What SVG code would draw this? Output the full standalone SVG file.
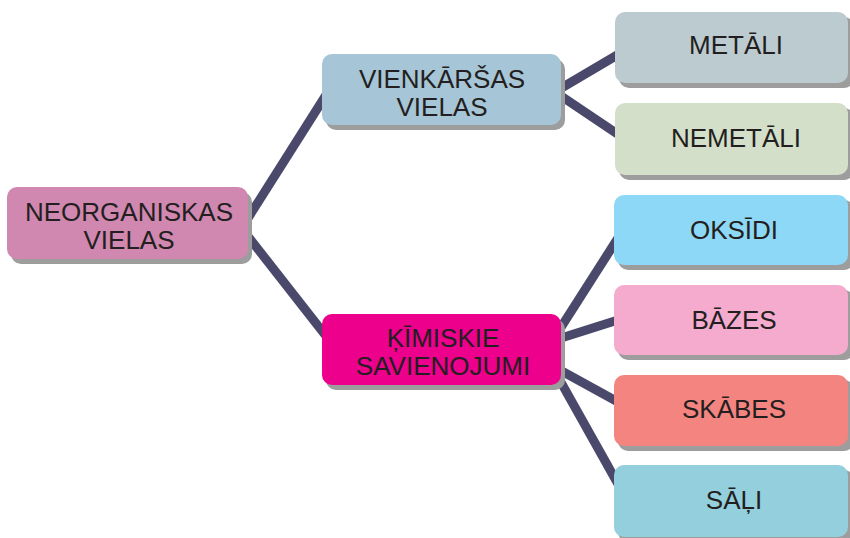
<svg xmlns="http://www.w3.org/2000/svg" width="850" height="538" viewBox="0 0 850 538">
<style>
.sh{fill:#9d9d9d}
.t{font-family:"Liberation Sans",Arial,sans-serif;font-size:26px;fill:#231f20;text-anchor:middle}
.c{stroke:#4b496b;stroke-width:9;fill:none;stroke-linecap:butt}
</style>
<rect width="850" height="538" fill="#ffffff"/>
<g id="connectors">
<line class="c" x1="243" y1="226" x2="326" y2="95"/>
<line class="c" x1="243" y1="230" x2="326" y2="336"/>
<line class="c" x1="558" y1="90" x2="619" y2="54"/>
<line class="c" x1="558" y1="94" x2="619" y2="135"/>
<line class="c" x1="558" y1="332" x2="618" y2="238"/>
<line class="c" x1="558" y1="339" x2="618" y2="320"/>
<line class="c" x1="558" y1="369" x2="618" y2="402"/>
<line class="c" x1="558" y1="377" x2="618" y2="484"/>
</g>
<g id="neorganiskas">
<rect class="sh" x="11" y="192" width="241" height="72" rx="10"/>
<rect x="7" y="187" width="241" height="72" rx="10" fill="#d088b0"/>
<text class="t" x="129" y="221">NEORGANISKAS</text>
<text class="t" x="129" y="249">VIELAS</text>
</g>
<g id="vienkarsas">
<rect class="sh" x="326" y="59" width="239" height="71" rx="10"/>
<rect x="322" y="54" width="239" height="71" rx="10" fill="#a6c5d6"/>
<text class="t" x="442" y="88">VIENKĀRŠAS</text>
<text class="t" x="442" y="116">VIELAS</text>
</g>
<g id="kimiskie">
<rect class="sh" x="326" y="319" width="239" height="71" rx="10"/>
<rect x="322" y="314" width="239" height="71" rx="10" fill="#ec008c"/>
<text class="t" x="443" y="347">ĶĪMISKIE</text>
<text class="t" x="443" y="375">SAVIENOJUMI</text>
</g>
<g id="metali">
<rect class="sh" x="619" y="17" width="235" height="71" rx="10"/>
<rect x="615" y="12" width="233" height="71" rx="10" fill="#bccbd0"/>
<text class="t" x="736" y="54">METĀLI</text>
</g>
<g id="nemetali">
<rect class="sh" x="619" y="108" width="235" height="72" rx="10"/>
<rect x="615" y="103" width="233" height="72" rx="10" fill="#d3dfc9"/>
<text class="t" x="736" y="147">NEMETĀLI</text>
</g>
<g id="oksidi">
<rect class="sh" x="618" y="200" width="236" height="70" rx="10"/>
<rect x="614" y="195" width="234" height="70" rx="10" fill="#8dd8f6"/>
<text class="t" x="734" y="239">OKSĪDI</text>
</g>
<g id="bazes">
<rect class="sh" x="618" y="290" width="236" height="70" rx="10"/>
<rect x="614" y="285" width="234" height="70" rx="10" fill="#f5abce"/>
<text class="t" x="734" y="329">BĀZES</text>
</g>
<g id="skabes">
<rect class="sh" x="618" y="380" width="236" height="71" rx="10"/>
<rect x="614" y="375" width="234" height="71" rx="10" fill="#f4847f"/>
<text class="t" x="734" y="418">SKĀBES</text>
</g>
<g id="sali">
<rect class="sh" x="618" y="470" width="236" height="72" rx="10"/>
<rect x="614" y="465" width="234" height="72" rx="10" fill="#93cfdd"/>
<text class="t" x="734" y="509">SĀĻI</text>
</g>
</svg>
